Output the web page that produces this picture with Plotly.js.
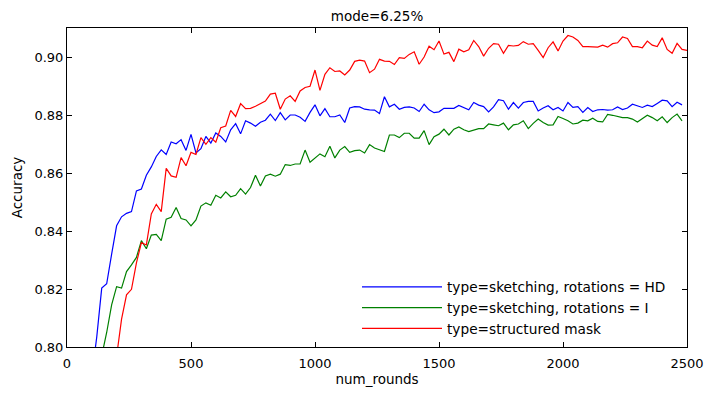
<!DOCTYPE html>
<html>
<head>
<meta charset="utf-8">
<script src="https://cdn.plot.ly/plotly-3.0.1.min.js"></script>
<style>html,body{margin:0;padding:0;background:#fff;}#chart{width:714px;height:398px;}</style>
</head>
<body>
<div id="chart"></div>
<script>
const rounds = [100,120,140,160,180,200,220,240,260,280,300,320,340,360,380,400,420,440,460,480,
500,520,540,560,580,600,620,640,660,680,700,720,740,760,780,800,820,840,860,880,
900,920,940,960,980,1000,1020,1040,1060,1080,1100,1120,1140,1160,1180,1200,1220,1240,1260,1280,
1300,1320,1340,1360,1380,1400,1420,1440,1460,1480,1500,1520,1540,1560,1580,1600,1620,1640,1660,1680,
1700,1720,1740,1760,1780,1800,1820,1840,1860,1880,1900,1920,1940,1960,1980,2000,2020,2040,2060,2080,
2100,2120,2140,2160,2180,2200,2220,2240,2260,2280,2300,2320,2340,2360,2380,2400,2420,2440,2460,2480,2500];

const sketchingHD = [0.790,0.8035,0.8203,0.8218,0.832,0.8418,0.8449,0.8461,0.8467,0.8538,0.8545,0.8592,0.8621,0.8657,0.8680,0.8664,0.8707,0.8701,0.8715,0.8678,
0.8733,0.8669,0.8684,0.8726,0.8703,0.8738,0.8726,0.8707,0.8749,0.8770,0.8735,0.8780,0.8772,0.8761,0.8775,0.8782,0.8803,0.8781,0.8808,0.8783,
0.8800,0.8800,0.8792,0.8778,0.8809,0.8835,0.8797,0.8822,0.8794,0.8794,0.8800,0.8774,0.8824,0.8829,0.8828,0.8820,0.8818,0.8817,0.8805,0.8863,
0.8828,0.8837,0.8820,0.8826,0.8828,0.8824,0.8812,0.8837,0.8818,0.8808,0.8811,0.8823,0.8823,0.8823,0.8833,0.8826,0.8818,0.8843,0.8834,0.8829,
0.8811,0.8828,0.8853,0.8849,0.8820,0.8843,0.8824,0.8843,0.8847,0.8847,0.8814,0.8824,0.8832,0.8818,0.8826,0.8814,0.8843,0.8826,0.8829,0.8809,
0.8826,0.8812,0.8818,0.8819,0.8817,0.8818,0.8828,0.8819,0.8824,0.8837,0.8832,0.8826,0.8834,0.8829,0.8840,0.8851,0.8849,0.8829,0.8844,0.8835,null];

const sketchingI = [null,null,0.797,0.805,0.8145,0.8208,0.8203,0.8260,0.8283,0.8309,0.8367,0.8339,0.8386,0.8388,0.8367,0.8441,0.8447,0.8481,0.8443,0.8438,
0.8418,0.8438,0.8486,0.8497,0.8489,0.8523,0.8514,0.8535,0.8518,0.8523,0.8546,0.8527,0.8550,0.8592,0.8555,0.8590,0.8596,0.8589,0.8596,0.8629,
0.8626,0.8631,0.8631,0.8679,0.8637,0.8652,0.8666,0.8656,0.8692,0.8652,0.8679,0.8691,0.8671,0.8677,0.8679,0.8669,0.8698,0.8686,0.8679,0.8674,
0.8731,0.8731,0.8722,0.8737,0.8737,0.8720,0.8720,0.8746,0.8698,0.8725,0.8734,0.8751,0.8731,0.8751,0.8759,0.8749,0.8743,0.8748,0.8753,0.8753,
0.8769,0.8766,0.8763,0.8772,0.8749,0.8766,0.8769,0.8780,0.8753,0.8771,0.8786,0.8774,0.8765,0.8766,0.8795,0.8788,0.8780,0.8769,0.8772,0.8782,
0.8780,0.8789,0.8778,0.8776,0.8802,0.8799,0.8794,0.8791,0.8791,0.8786,0.8776,0.8789,0.8799,0.8791,0.8780,0.8794,0.8774,0.8791,0.8803,0.8780,null];

const structuredMask = [null,null,null,null,null,0.7968,0.8096,0.8180,0.8199,0.8290,0.8360,0.8352,0.8459,0.8492,0.8467,0.8616,0.8590,0.8585,0.8653,0.8625,
0.8671,0.8664,0.8722,0.8699,0.8722,0.8706,0.8756,0.8762,0.8816,0.8795,0.8839,0.8822,0.8823,0.8830,0.8839,0.8848,0.8872,0.8875,0.8820,0.8855,
0.8866,0.8847,0.8883,0.8895,0.8899,0.8955,0.8885,0.8940,0.8963,0.8950,0.8952,0.8938,0.8955,0.8985,0.8989,0.8986,0.8946,0.8958,0.8992,0.8986,
0.8985,0.8974,0.8998,0.8995,0.9009,0.9018,0.8975,0.9000,0.9037,0.9025,0.9055,0.9010,0.9016,0.8984,0.9027,0.9018,0.9025,0.9057,0.9036,0.9003,
0.9030,0.9046,0.9044,0.9013,0.9040,0.9038,0.9040,0.9053,0.9044,0.9046,0.9023,0.8998,0.9032,0.9052,0.9021,0.9055,0.9074,0.9069,0.9057,0.9036,
0.9036,0.9036,0.9034,0.9041,0.9034,0.9046,0.9049,0.9069,0.9064,0.9036,0.9036,0.9032,0.9055,0.9041,0.9036,0.9066,0.9026,0.9013,0.9047,0.9026,0.9023];

const seriesNames = ["type=sketching, rotations = HD", "type=sketching, rotations = I", "type=structured mask"];
const seriesColors = ["#0000ff", "#008000", "#ff0000"];
const xTicks = [0, 500, 1000, 1500, 2000, 2500];
const yTicks = [0.80, 0.82, 0.84, 0.86, 0.88, 0.90];
const yTickLabels = ["0.80", "0.82", "0.84", "0.86", "0.88", "0.90"];

const FONT = "DejaVu Sans, sans-serif";
const allSeries = [sketchingHD, sketchingI, structuredMask];
const traces = allSeries.map((ys, i) => ({
  type: "scatter", mode: "lines", x: rounds, y: ys, name: seriesNames[i],
  line: {color: seriesColors[i], width: 1.2}, connectgaps: false
}));

const axisCommon = {
  showline: true, linecolor: "#000", linewidth: 1, mirror: "ticks",
  ticks: "inside", ticklen: 5, tickwidth: 1, tickcolor: "#000",
  showgrid: false, zeroline: false,
  tickfont: {family: FONT, size: 13, color: "#000"}
};

const layout = {
  width: 714, height: 398,
  margin: {l: 67, r: 27, t: 28, b: 51},
  paper_bgcolor: "#fff", plot_bgcolor: "#fff",
  title: {text: "mode=6.25%", font: {family: FONT, size: 13.5, color: "#000"},
          x: (67 + 687) / 2 / 714, xref: "container", xanchor: "center",
          y: 1 - 16.5 / 398, yref: "container", yanchor: "middle"},
  xaxis: Object.assign({}, axisCommon, {
    range: [0, 2500], tickvals: xTicks, ticktext: xTicks.map(String), ticklabelstandoff: 4,
    title: {text: "num_rounds", font: {family: FONT, size: 13.5, color: "#000"}, standoff: 4}
  }),
  yaxis: Object.assign({}, axisCommon, {
    range: [0.80, 0.91], tickvals: yTicks, ticktext: yTickLabels,
    title: {text: "Accuracy", font: {family: FONT, size: 13.5, color: "#000"}, standoff: 8}
  }),
  showlegend: true,
  legend: {
    x: (357 - 67) / 620, y: 0.237, xanchor: "left", yanchor: "top",
    bgcolor: "rgba(0,0,0,0)", borderwidth: 0,
    font: {family: FONT, size: 13.7, color: "#000"},
    itemwidth: 80
  }
};

Plotly.newPlot("chart", traces, layout, {staticPlot: true, displayModeBar: false});
</script>
</body>
</html>
